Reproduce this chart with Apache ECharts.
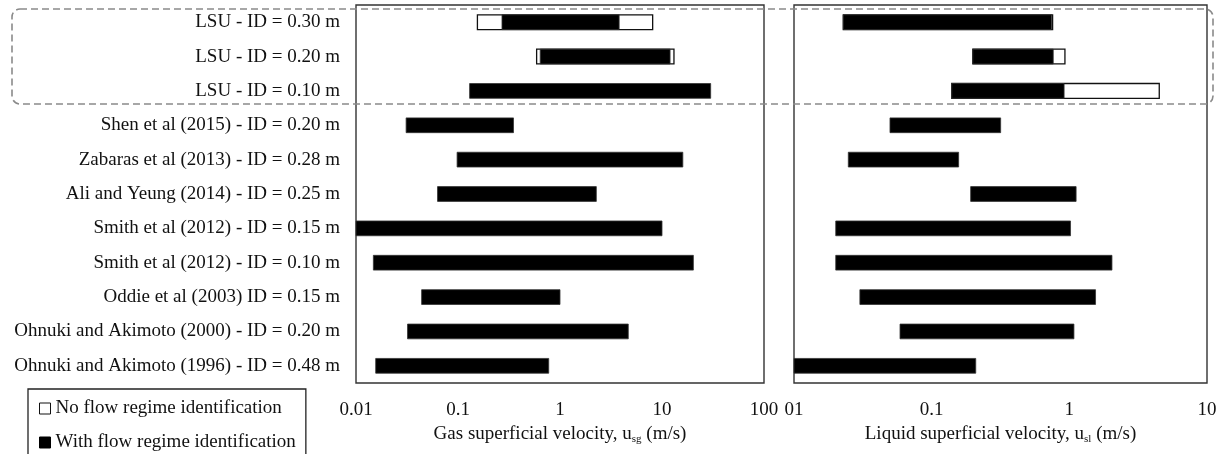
<!DOCTYPE html>
<html>
<head>
<meta charset="utf-8">
<script src="https://cdn.jsdelivr.net/npm/echarts@6/dist/echarts.min.js"></script>
<style>
html,body{margin:0;padding:0;background:#fff;}
#chart{width:1225px;height:454px;}
</style>
</head>
<body>
<div id="chart"></div>
<script>
const categories = [
  'LSU - ID = 0.30 m',
  'LSU - ID = 0.20 m',
  'LSU - ID = 0.10 m',
  'Shen et al (2015) - ID = 0.20 m',
  'Zabaras et al (2013) - ID = 0.28 m',
  'Ali and Yeung (2014) - ID = 0.25 m',
  'Smith et al (2012) - ID = 0.15 m',
  'Smith et al (2012) - ID = 0.10 m',
  'Oddie et al (2003) ID = 0.15 m',
  'Ohnuki and Akimoto (2000) - ID = 0.20 m',
  'Ohnuki and Akimoto (1996) - ID = 0.48 m'
];
// Gas superficial velocity ranges (m/s)
const gasNoIdLow  = [0.155, 0.59, null, null, null, null, null, null, null, null, null];
const gasNoIdHigh = [8.1,   13.1, null, null, null, null, null, null, null, null, null];
const gasIdLow    = [0.27, 0.64, 0.13, 0.031, 0.098, 0.063, 0.01, 0.0148, 0.044, 0.032, 0.0156];
const gasIdHigh   = [3.8,  12.0, 30.0, 0.35,  16.0,  2.27,  10.0, 20.3,   1.0,   4.67,  0.775];
// Liquid superficial velocity ranges (m/s)
const liqNoIdLow  = [0.0228, 0.199, 0.14, null, null, null, null, null, null, null, null];
const liqNoIdHigh = [0.756,  0.929, 4.5,  null, null, null, null, null, null, null, null];
const liqIdLow    = [0.0228, 0.199, 0.14,  0.0498, 0.0248, 0.192, 0.0201, 0.0201, 0.0301, 0.0589, 0.01];
const liqIdHigh   = [0.743,  0.764, 0.916, 0.317,  0.157,  1.12,  1.02,   2.04,   1.55,   1.08,   0.209];
// Tick labels
const gasTicks = ['0.01', '0.1', '1', '10', '100'];
const liqTicks = ['01', '0.1', '1', '10'];

const SERIF = '"Liberation Serif", "Times New Roman", serif';
const FS = 19;
const TXT = '#111';

function rangeData(lo, hi) {
  const out = [];
  lo.forEach((v, i) => { if (v != null && hi[i] != null) out.push([i, v, hi[i]]); });
  return out;
}
function renderRange(params, api) {
  const cat = api.value(0);
  const s = api.coord([api.value(1), cat]);
  const e = api.coord([api.value(2), cat]);
  const h = api.size([0, 1])[1] * 0.43;
  return {
    type: 'rect',
    shape: { x: s[0], y: s[1] - h / 2, width: e[0] - s[0], height: h },
    style: api.style()
  };
}
function tickFmt(ticks) {
  return function (v) {
    const idx = Math.round(Math.log10(v)) + 2;
    return ticks[idx] != null ? ticks[idx] : '';
  };
}
const noIdStyle = { color: '#ffffff', borderColor: '#111', borderWidth: 1.3 };
const idStyle = { color: '#000000', borderColor: '#333', borderWidth: 0.8 };

function xAxisCfg(gridIndex, max, ticks, nameMain, nameSub) {
  return {
    type: 'log', logBase: 10, gridIndex: gridIndex, min: 0.01, max: max,
    axisLine: { show: false }, axisTick: { show: false },
    splitLine: { show: false }, minorTick: { show: false },
    axisLabel: { formatter: tickFmt(ticks), fontFamily: SERIF, fontSize: FS, color: TXT, margin: 18, showMinLabel: true, showMaxLabel: true },
    name: '{n|' + nameMain + '}{s|' + nameSub + '}{n| (m/s)}',
    nameLocation: 'middle', nameGap: 41,
    nameTextStyle: {
      rich: {
        n: { fontFamily: SERIF, fontSize: FS, color: TXT, lineHeight: 20 },
        s: { fontFamily: SERIF, fontSize: 11, color: TXT, verticalAlign: 'bottom', lineHeight: 14 }
      }
    }
  };
}

const chart = echarts.init(document.getElementById('chart'), null, { renderer: 'canvas' });
chart.setOption({
  animation: false,
  backgroundColor: '#ffffff',
  grid: [
    { left: 356, right: 461, top: 5, bottom: 71, show: true, borderColor: '#333', borderWidth: 1.4, backgroundColor: 'transparent' },
    { left: 794, right: 18, top: 5, bottom: 71, show: true, borderColor: '#333', borderWidth: 1.4, backgroundColor: 'transparent' }
  ],
  xAxis: [
    xAxisCfg(0, 100, gasTicks, 'Gas superficial velocity, u', 'sg'),
    xAxisCfg(1, 10, liqTicks, 'Liquid superficial velocity, u', 'sl')
  ],
  yAxis: [
    { type: 'category', gridIndex: 0, data: categories, inverse: true,
      axisLine: { show: false }, axisTick: { show: false }, splitLine: { show: false },
      axisLabel: { fontFamily: SERIF, fontSize: FS, color: TXT, margin: 16, interval: 0 } },
    { type: 'category', gridIndex: 1, data: categories, inverse: true,
      axisLine: { show: false }, axisTick: { show: false }, splitLine: { show: false },
      axisLabel: { show: false } }
  ],
  legend: {
    orient: 'horizontal', left: 28, top: 389, width: 262,
    borderColor: '#222', borderWidth: 1.3, padding: [10, 10, 24, 11],
    itemGap: 15, itemWidth: 11, itemHeight: 11,
    textStyle: { fontFamily: SERIF, fontSize: FS, color: TXT },
    data: [
      { name: 'No flow regime identification', icon: 'rect', itemStyle: { color: '#fff', borderColor: '#111', borderWidth: 1 } },
      { name: 'With flow regime identification', icon: 'rect', itemStyle: { color: '#000', borderColor: '#000', borderWidth: 1 } }
    ]
  },
  graphic: [
    { type: 'rect', z: 100, silent: true,
      shape: { x: 12, y: 9, width: 1201, height: 95, r: 8 },
      style: { fill: 'none', stroke: '#8a8a8a', lineWidth: 1.6, lineDash: [7, 4] } }
  ],
  series: [
    { type: 'custom', name: 'No flow regime identification', xAxisIndex: 0, yAxisIndex: 0,
      renderItem: renderRange, encode: { x: [1, 2], y: 0 }, itemStyle: noIdStyle,
      data: rangeData(gasNoIdLow, gasNoIdHigh), z: 2 },
    { type: 'custom', name: 'With flow regime identification', xAxisIndex: 0, yAxisIndex: 0,
      renderItem: renderRange, encode: { x: [1, 2], y: 0 }, itemStyle: idStyle,
      data: rangeData(gasIdLow, gasIdHigh), z: 3 },
    { type: 'custom', name: 'No flow regime identification', xAxisIndex: 1, yAxisIndex: 1,
      renderItem: renderRange, encode: { x: [1, 2], y: 0 }, itemStyle: noIdStyle,
      data: rangeData(liqNoIdLow, liqNoIdHigh), z: 2 },
    { type: 'custom', name: 'With flow regime identification', xAxisIndex: 1, yAxisIndex: 1,
      renderItem: renderRange, encode: { x: [1, 2], y: 0 }, itemStyle: idStyle,
      data: rangeData(liqIdLow, liqIdHigh), z: 3 }
  ]
});
</script>
</body>
</html>
